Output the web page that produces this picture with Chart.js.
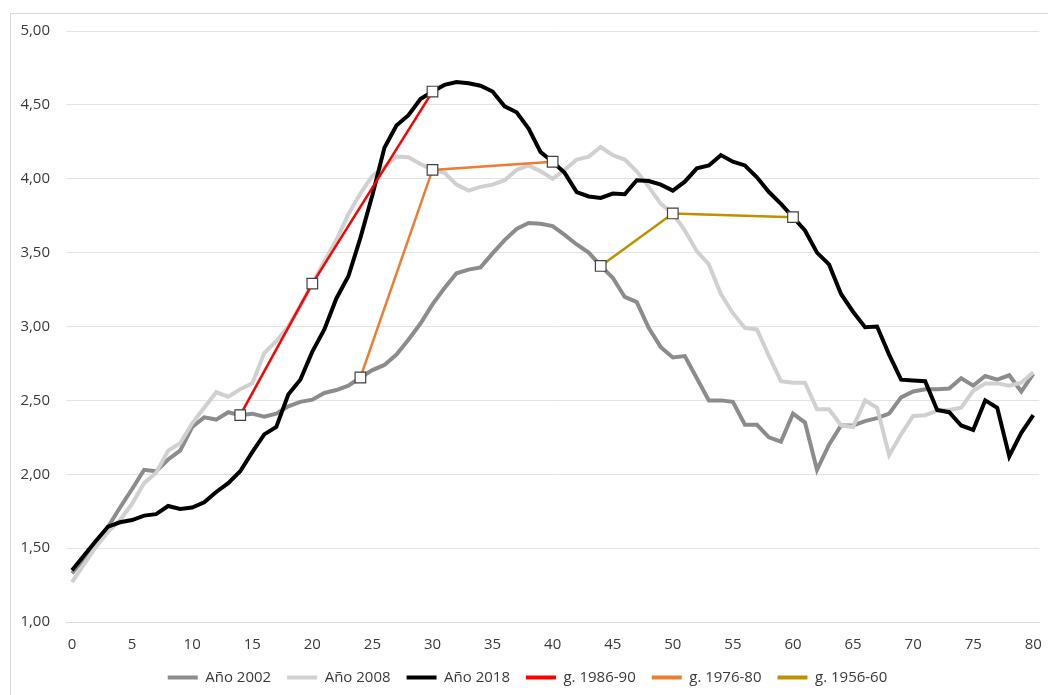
<!DOCTYPE html>
<html lang="es">
<head>
<meta charset="utf-8">
<title>Curvas por edad</title>
<script src="https://cdn.jsdelivr.net/npm/chart.js@4.4.1/dist/chart.umd.min.js"></script>
<style>
  html, body { margin: 0; padding: 0; background: #fff; }
  #wrap { position: relative; width: 1048px; height: 695px; overflow: hidden; }
  #frame { position: absolute; left: 10px; top: 13px; width: 1100px; height: 750px; border: 1px solid #d9d9d9; box-sizing: border-box; }
  #chart { position: absolute; left: 0; top: 0; }
</style>
</head>
<body>
<div id="wrap">
  <div id="frame"></div>
  <canvas id="chart" width="1048" height="695"></canvas>
</div>
<script>
// edades 0..80
const ages = [];
for (let a = 0; a <= 80; a++) ages.push(String(a));

const y2002 = [
  1.33, 1.43, 1.535, 1.645, 1.775, 1.90, 2.03, 2.02, 2.10, 2.16,
  2.32, 2.385, 2.37, 2.42, 2.40, 2.41, 2.39, 2.41, 2.46, 2.49,
  2.505, 2.55, 2.57, 2.60, 2.655, 2.705, 2.74, 2.81, 2.91, 3.02,
  3.15, 3.26, 3.36, 3.385, 3.40, 3.495, 3.585, 3.66, 3.70, 3.695,
  3.68, 3.62, 3.555, 3.50, 3.41, 3.33, 3.20, 3.165, 2.99, 2.86,
  2.79, 2.80, 2.65, 2.50, 2.50, 2.49, 2.335, 2.335, 2.25, 2.22,
  2.41, 2.35, 2.03, 2.20, 2.33, 2.33, 2.36, 2.38, 2.41, 2.52,
  2.56, 2.575, 2.575, 2.58, 2.65, 2.60, 2.665, 2.64, 2.67, 2.56,
  2.68
];

const y2008 = [
  1.27, 1.39, 1.51, 1.61, 1.69, 1.80, 1.94, 2.01, 2.16, 2.21,
  2.345, 2.45, 2.555, 2.525, 2.575, 2.615, 2.82, 2.90, 3.00, 3.14,
  3.29, 3.44, 3.585, 3.76, 3.90, 4.02, 4.08, 4.15, 4.145, 4.10,
  4.06, 4.04, 3.96, 3.92, 3.945, 3.96, 3.99, 4.06, 4.09, 4.05,
  4.00, 4.06, 4.13, 4.15, 4.215, 4.16, 4.13, 4.05, 3.945, 3.83,
  3.765, 3.65, 3.51, 3.42, 3.22, 3.09, 2.99, 2.98, 2.80, 2.63,
  2.62, 2.62, 2.44, 2.44, 2.33, 2.32, 2.50, 2.45, 2.13, 2.27,
  2.395, 2.40, 2.43, 2.435, 2.45, 2.565, 2.615, 2.615, 2.60, 2.62,
  2.69
];

const y2018 = [
  1.35, 1.45, 1.55, 1.645, 1.675, 1.69, 1.72, 1.73, 1.785, 1.765,
  1.775, 1.81, 1.88, 1.94, 2.02, 2.15, 2.27, 2.32, 2.54, 2.64,
  2.83, 2.98, 3.19, 3.34, 3.60, 3.89, 4.21, 4.36, 4.43, 4.54,
  4.59, 4.635, 4.655, 4.646, 4.63, 4.59, 4.49, 4.45, 4.34, 4.18,
  4.115, 4.04, 3.91, 3.88, 3.87, 3.90, 3.895, 3.99, 3.985, 3.96,
  3.92, 3.98, 4.07, 4.09, 4.16, 4.115, 4.09, 4.01, 3.91, 3.83,
  3.74, 3.65, 3.50, 3.42, 3.22, 3.10, 2.995, 3.00, 2.81, 2.64,
  2.635, 2.63, 2.435, 2.42, 2.33, 2.30, 2.50, 2.45, 2.12, 2.28,
  2.40
];

// generaciones: edad en 2002, 2008 y 2018
const g1986Ages = [14, 20, 30];
const g1986Vals = [2.40, 3.29, 4.59];
const g1976Ages = [24, 30, 40];
const g1976Vals = [2.655, 4.06, 4.115];
const g1956Ages = [44, 50, 60];
const g1956Vals = [3.41, 3.765, 3.74];

const yTicks = [1, 1.5, 2, 2.5, 3, 3.5, 4, 4.5, 5];

function cohortData(agesList, vals) {
  const arr = ages.map(function () { return null; });
  agesList.forEach(function (a, i) { arr[a] = vals[i]; });
  return arr;
}

const FONT = "'Open Sans', 'Noto Sans', sans-serif";
const TEXT = "#3a3a3a";

function mainLine(label, data, color, order) {
  return {
    label: label, data: data, borderColor: color, backgroundColor: color,
    borderWidth: 4, pointRadius: 0, tension: 0, order: order
  };
}

function cohortLine(label, data, color, order) {
  return {
    label: label, data: data, borderColor: color, backgroundColor: "#ffffff",
    borderWidth: 2.5, spanGaps: true, tension: 0, order: order,
    pointStyle: "rect", pointRadius: 7.5, pointBorderColor: "#404040",
    pointBorderWidth: 1.2, pointBackgroundColor: "#ffffff"
  };
}

const ctx = document.getElementById("chart").getContext("2d");
const chart = new Chart(ctx, {
  type: "line",
  data: {
    labels: ages,
    datasets: [
      mainLine("Año 2002", y2002, "#8c8c8c", 6),
      mainLine("Año 2008", y2008, "#d0d0d0", 5),
      mainLine("Año 2018", y2018, "#000000", 4),
      cohortLine("g. 1986-90", cohortData(g1986Ages, g1986Vals), "#ff0000", 3),
      cohortLine("g. 1976-80", cohortData(g1976Ages, g1976Vals), "#ed7d31", 2),
      cohortLine("g. 1956-60", cohortData(g1956Ages, g1956Vals), "#bf9000", 1)
    ]
  },
  options: {
    responsive: false,
    animation: false,
    layout: { padding: { left: 10, right: 3, top: 31, bottom: 0 } },
    plugins: {
      tooltip: { enabled: false },
      legend: {
        position: "bottom",
        labels: {
          color: TEXT,
          font: { family: FONT, size: 15 },
          usePointStyle: true,
          pointStyleWidth: 30,
          padding: 16,
          sort: function (a, b) { return a.datasetIndex - b.datasetIndex; },
          generateLabels: function (c) {
            const items = Chart.defaults.plugins.legend.labels.generateLabels(c);
            items.forEach(function (it) {
              it.pointStyle = "line";
              it.lineWidth = 4;
              it.strokeStyle = c.data.datasets[it.datasetIndex].borderColor;
            });
            return items;
          }
        }
      }
    },
    scales: {
      x: {
        type: "category",
        offset: true,
        grid: { display: false, drawTicks: false },
        border: { display: true, color: "#d9d9d9", width: 1 },
        ticks: {
          autoSkip: false,
          maxRotation: 0,
          padding: 14,
          color: TEXT,
          font: { family: FONT, size: 15 },
          callback: function (value, index) {
            return index % 5 === 0 ? this.getLabelForValue(value) : "";
          }
        },
        afterFit: function (scale) {
          scale.height = 32;
          scale.paddingLeft = 0;
          scale.paddingRight = 0;
        }
      },
      y: {
        min: 1,
        max: 5,
        afterBuildTicks: function (scale) {
          scale.ticks = yTicks.map(function (v) { return { value: v }; });
        },
        grid: { color: "#e3e3e3", lineWidth: 1, drawTicks: false },
        border: { display: false },
        ticks: {
          padding: 16,
          color: TEXT,
          font: { family: FONT, size: 15 },
          callback: function (value) {
            return value.toFixed(2).replace(".", ",");
          }
        },
        afterFit: function (scale) { scale.width = 56; }
      }
    }
  }
});
</script>
</body>
</html>
